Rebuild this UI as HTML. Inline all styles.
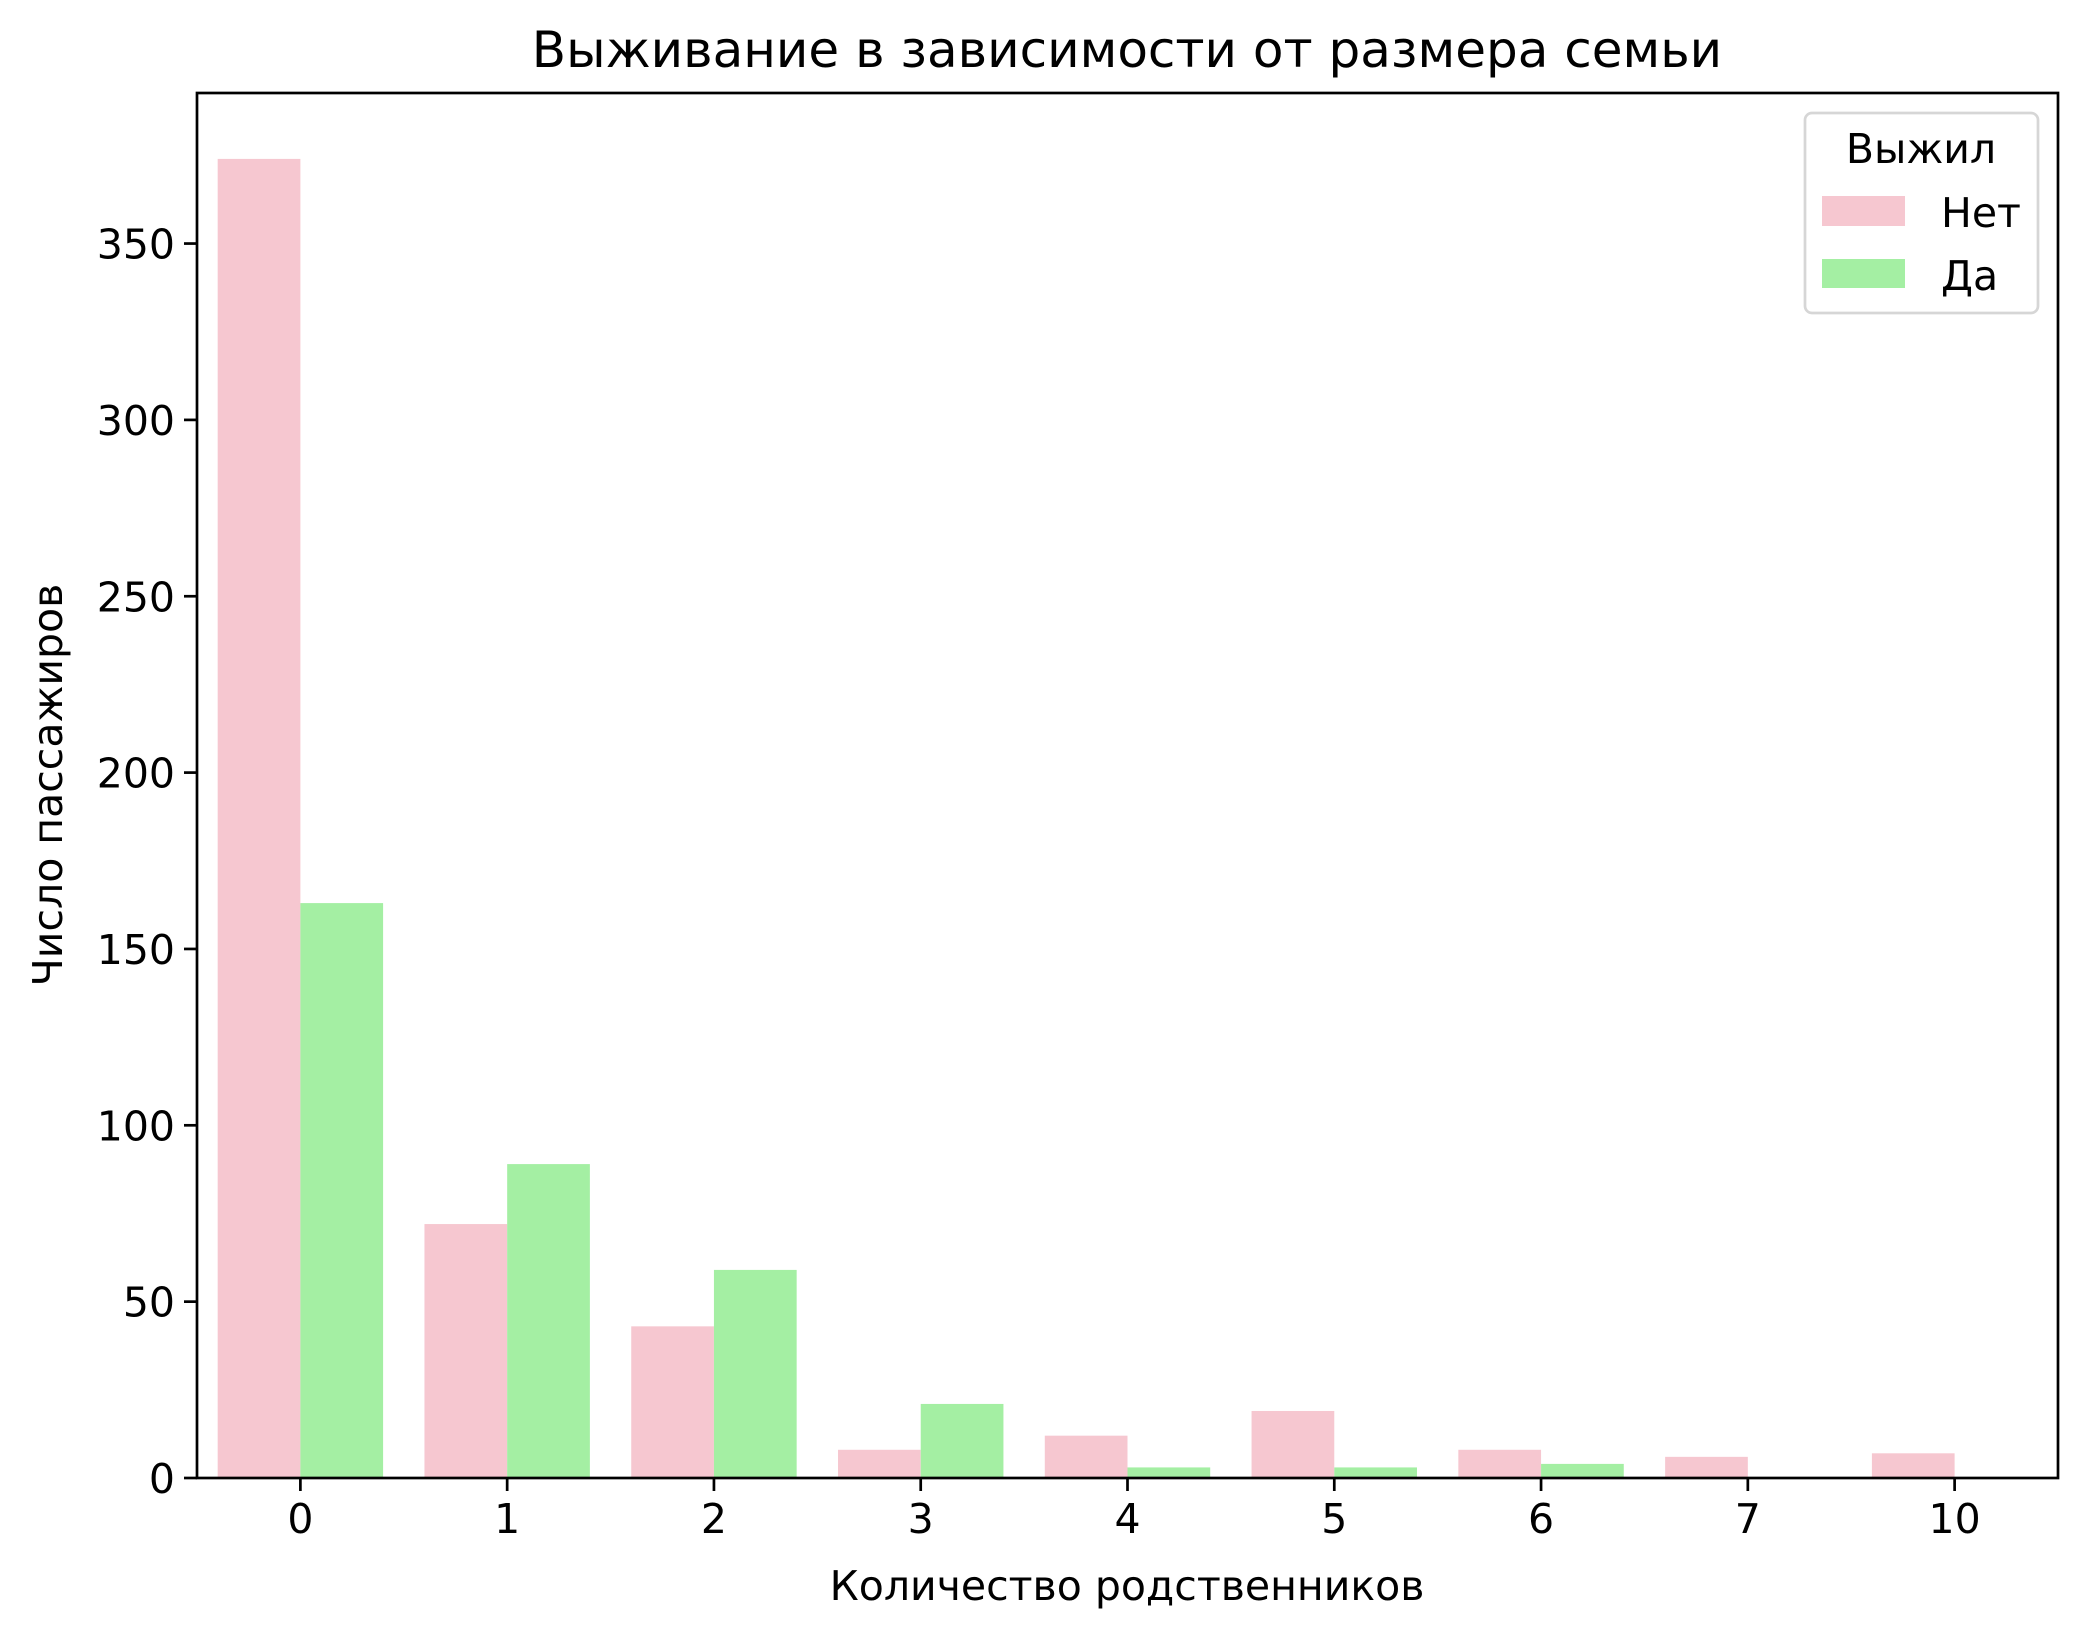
<!DOCTYPE html>
<html><head><meta charset="utf-8"><style>
html,body{margin:0;padding:0;background:#fff;}
svg{display:block;font-family:"DejaVu Sans","Liberation Sans",sans-serif;}
</style></head><body>
<svg id="chart" width="2087" height="1638" viewBox="0 0 2087 1638" xmlns="http://www.w3.org/2000/svg">
<rect width="2087" height="1638" fill="#fff"/>
<g id="bars"></g>
<g id="axes"></g>
<text x="1127" y="67" font-size="50" text-anchor="middle">Выживание в зависимости от размера семьи</text>
<text x="1127" y="1600" font-size="41" text-anchor="middle">Количество родственников</text>
<text transform="translate(62,785) rotate(-90)" font-size="41" text-anchor="middle">Число пассажиров</text>
<g>
<rect x="1805" y="113" width="233" height="200" rx="7" fill="#fff" fill-opacity="0.8" stroke="#d6d6d6" stroke-width="2.7"/>
<text x="1921" y="163" font-size="41" text-anchor="middle">Выжил</text>
<rect x="1822" y="196" width="83" height="30" fill="#f6c7d0"/>
<text x="1941" y="227" font-size="41">Нет</text>
<rect x="1822" y="259" width="83" height="29" fill="#a4efa3"/>
<text x="1941" y="290" font-size="41">Да</text>
</g>
</svg>
<script>
const categories = ["0","1","2","3","4","5","6","7","10"];
const netValues = [374, 72, 43, 8, 12, 19, 8, 6, 7];
const daValues = [163, 89, 59, 21, 3, 3, 4, 0, 0];
const yTicks = [0, 50, 100, 150, 200, 250, 300, 350];

const NS = "http://www.w3.org/2000/svg";
const L = 197, R = 2058, T = 93, B = 1478;
const yMax = (B - T) / 3.527;
function xPos(i){ return L + (i + 0.5) * (R - L) / categories.length; }
function yPos(v){ return B - v / yMax * (B - T); }
const bw = 0.4 * (R - L) / categories.length;
function mk(tag, attrs, parent){ const e = document.createElementNS(NS, tag); for (const k in attrs) e.setAttribute(k, attrs[k]); parent.appendChild(e); return e; }
const bars = document.getElementById('bars');
const axes = document.getElementById('axes');
categories.forEach((c, i) => {
  const cx = xPos(i);
  const b1 = mk('rect', {x: cx - bw, y: yPos(netValues[i]), width: bw, height: B - yPos(netValues[i]), fill: '#f6c7d0'}, bars);
  
  
  const b2 = mk('rect', {x: cx, y: yPos(daValues[i]), width: bw, height: B - yPos(daValues[i]), fill: '#a4efa3'}, bars);
  
  
  const tk = mk('line', {x1: cx, x2: cx, y1: B, y2: B + 13, stroke: '#000', 'stroke-width': 2.7}, axes);
  
  
  const tl = mk('text', {x: cx, y: B + 55, 'font-size': 41, 'text-anchor': 'middle'}, axes);
  tl.textContent = c;
  
  
});
yTicks.forEach(v => {
  const y = yPos(v);
  const tk = mk('line', {x1: L - 13, x2: L, y1: y, y2: y, stroke: '#000', 'stroke-width': 2.7}, axes);
  
  
  const tl = mk('text', {x: L - 22, y: y + 15, 'font-size': 41, 'text-anchor': 'end'}, axes);
  tl.textContent = v;
  
  
});
const frame = mk('rect', {x: L, y: T, width: R - L, height: B - T, fill: 'none', stroke: '#000', 'stroke-width': 2.7}, axes);


</script>
</body></html>
